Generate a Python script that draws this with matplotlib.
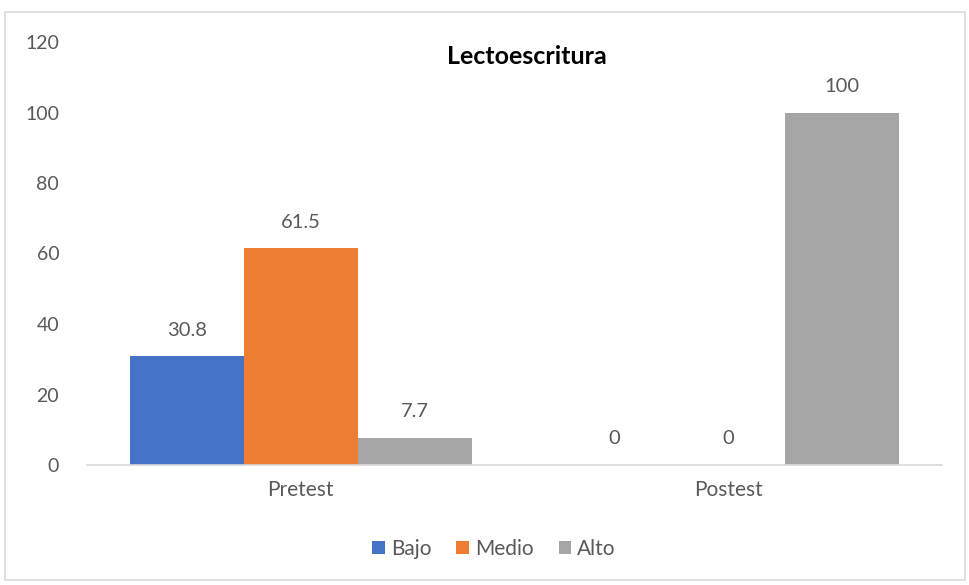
import matplotlib.pyplot as plt
from matplotlib.patches import Rectangle
import numpy as np

plt.rcParams["font.family"] = ["Lato", "DejaVu Sans"]

categories = ["Pretest", "Postest"]
series_names = ["Bajo", "Medio", "Alto"]
bajo = [30.8, 0]
medio = [61.5, 0]
alto = [7.7, 100]
value_labels = [["30.8", "0"], ["61.5", "0"], ["7.7", "100"]]
colors = ["#4472C4", "#ED7D31", "#A5A5A5"]

fig = plt.figure(figsize=(9.70, 5.85), dpi=100)
ax = fig.add_axes([87 / 970, 1 - 465 / 585, 855 / 970, 423 / 585])

# chart frame
fig.patches.append(Rectangle((5 / 970, 5 / 585), 960 / 970, 568 / 585,
                             transform=fig.transFigure, fill=False,
                             edgecolor="#D9D9D9", linewidth=1.2))

x = np.arange(len(categories))
width = 0.8 / 3
text_color = "#595959"
for i, (name, vals) in enumerate(zip(series_names, [bajo, medio, alto])):
    pos = x + (i - 1) * width
    ax.bar(pos, vals, width=width, color=colors[i], label=name, zorder=2)
    for p, v, lab in zip(pos, vals, value_labels[i]):
        ax.text(p, v + 5.0, lab, ha="center", va="bottom",
                fontsize=14.5, color=text_color)

ax.set_xlim(-0.5, 1.5)
ax.set_ylim(0, 120)
ax.set_yticks(range(0, 121, 20))
ax.set_xticks(x)
ax.set_xticklabels(categories, fontsize=15, color=text_color)
ax.tick_params(axis="y", labelsize=14, labelcolor=text_color, length=0, pad=20)
ax.tick_params(axis="x", length=0, pad=11)
for s in ["top", "right", "left"]:
    ax.spines[s].set_visible(False)
ax.spines["bottom"].set_color("#D9D9D9")
ax.spines["bottom"].set_linewidth(1.2)

fig.text(527 / 970, 1 - 57 / 585, "Lectoescritura", ha="center", va="center",
         fontsize=18, fontweight="bold", color="#000000")

leg = fig.legend(loc="center", bbox_to_anchor=(494 / 970, 1 - 549 / 585),
                 ncol=3, frameon=False, fontsize=15, handlelength=0.6,
                 handleheight=0.6, handletextpad=0.3, columnspacing=1.2)
for t in leg.get_texts():
    t.set_color(text_color)

fig.savefig("out.png", dpi=100)
